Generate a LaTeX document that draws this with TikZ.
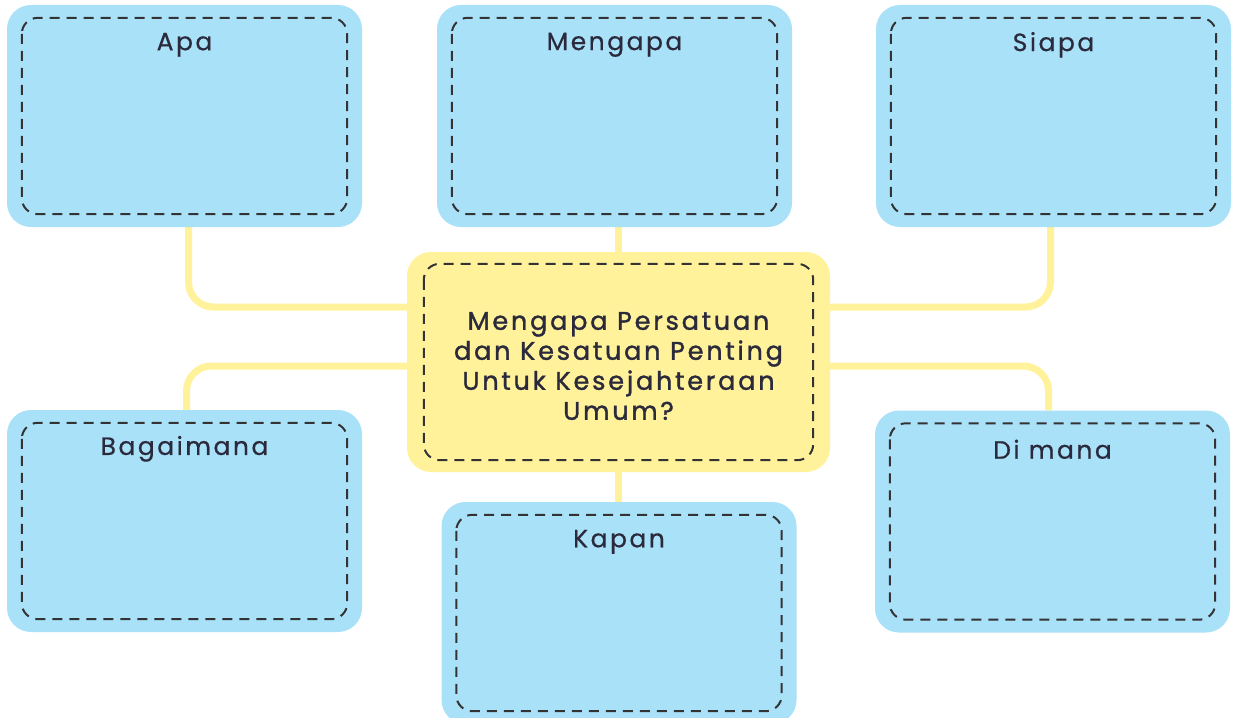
\documentclass[tikz,border=0pt]{standalone}
\usepackage{fontspec}
\setmainfont{Poppins}
\newfontfamily\titlefont{Poppins}[FakeBold=0.6,LetterSpace=10]
\newfontfamily\centerfont{Poppins}[FakeBold=1.3,LetterSpace=11]
\usetikzlibrary{backgrounds}
\definecolor{boxblue}{HTML}{A9E1F9}
\definecolor{boxyellow}{HTML}{FFF29A}
\definecolor{linkyellow}{HTML}{FFF29A}
\definecolor{dashgray}{HTML}{333333}
\definecolor{txt}{HTML}{2A2A3C}
\tikzset{
  bluebox/.style={fill=boxblue, draw=none, rounded corners=24pt, minimum width=355pt, minimum height=222pt, inner sep=0pt},
  yellowbox/.style={fill=boxyellow, draw=none, rounded corners=24pt, minimum width=423pt, minimum height=220pt, inner sep=0pt},
  dashedin/.style={draw=dashgray, line width=2pt, dash pattern=on 10pt off 7pt, rounded corners=16pt},
  link/.style={draw=linkyellow, line width=7pt, rounded corners=25pt},
  titletext/.style={text=txt, font=\titlefont\fontsize{25}{28}\selectfont, anchor=center},
  centertext/.style={text=txt, font=\centerfont\fontsize{25.5}{30}\selectfont, align=center}
}
\begin{document}
\begin{tikzpicture}[x=1pt,y=-1pt]
\useasboundingbox (0,0) rectangle (1233,717);
% boxes
\node[bluebox] (apa) at (184.5,116) {};
\node[bluebox] (mengapa) at (614.5,116) {};
\node[bluebox] (siapa) at (1053.5,116) {};
\node[bluebox] (bagaimana) at (184.5,521) {};
\node[bluebox] (dimana) at (1052.5,521.5) {};
\node[bluebox] (kapan) at (619,613) {};
\node[yellowbox] (c) at (618.5,362) {};
% dashed insets
\foreach \n in {apa,mengapa,siapa,bagaimana,dimana,kapan}{
  \draw[dashedin] ([shift={(15pt,-13pt)}]\n.north west) rectangle ([shift={(-15pt,13pt)}]\n.south east);
}
\draw[dashedin] ([shift={(17pt,-12pt)}]c.north west) rectangle ([shift={(-17pt,12pt)}]c.south east);
% titles
\node[titletext] (tapa) at ([yshift=-40pt]apa.north) {Apa};
\node[titletext] (tmengapa) at ([yshift=-40pt]mengapa.north) {Mengapa};
\node[titletext] (tsiapa) at ([yshift=-40pt]siapa.north) {Siapa};
\node[titletext] (tbag) at ([yshift=-39pt]bagaimana.north) {Bagaimana};
\node[titletext] (tdim) at ([yshift=-39pt]dimana.north) {Di mana};
\node[titletext] (tkap) at ([yshift=-40pt]kapan.north) {Kapan};
\node[centertext] (tc) at (618.5,366) {Mengapa Persatuan\\dan Kesatuan Penting\\Untuk Kesejahteraan\\Umum?};
% connectors
\begin{scope}[on background layer]
\draw[link] ([xshift=4pt]apa.south) |- ([yshift=55pt]c.west);
\draw[link] ([yshift=-4pt]c.west) -| ([xshift=2pt]bagaimana.north);
\draw[link] ([xshift=-3pt]siapa.south) |- ([yshift=55pt]c.east);
\draw[link] ([yshift=-4pt]c.east) -| ([xshift=-4pt]dimana.north);
\draw[link] (mengapa.south -| c.north) -- (c.north);
\draw[link] (c.south) -- (kapan.north -| c.south);
\end{scope}
\end{tikzpicture}
\end{document}
